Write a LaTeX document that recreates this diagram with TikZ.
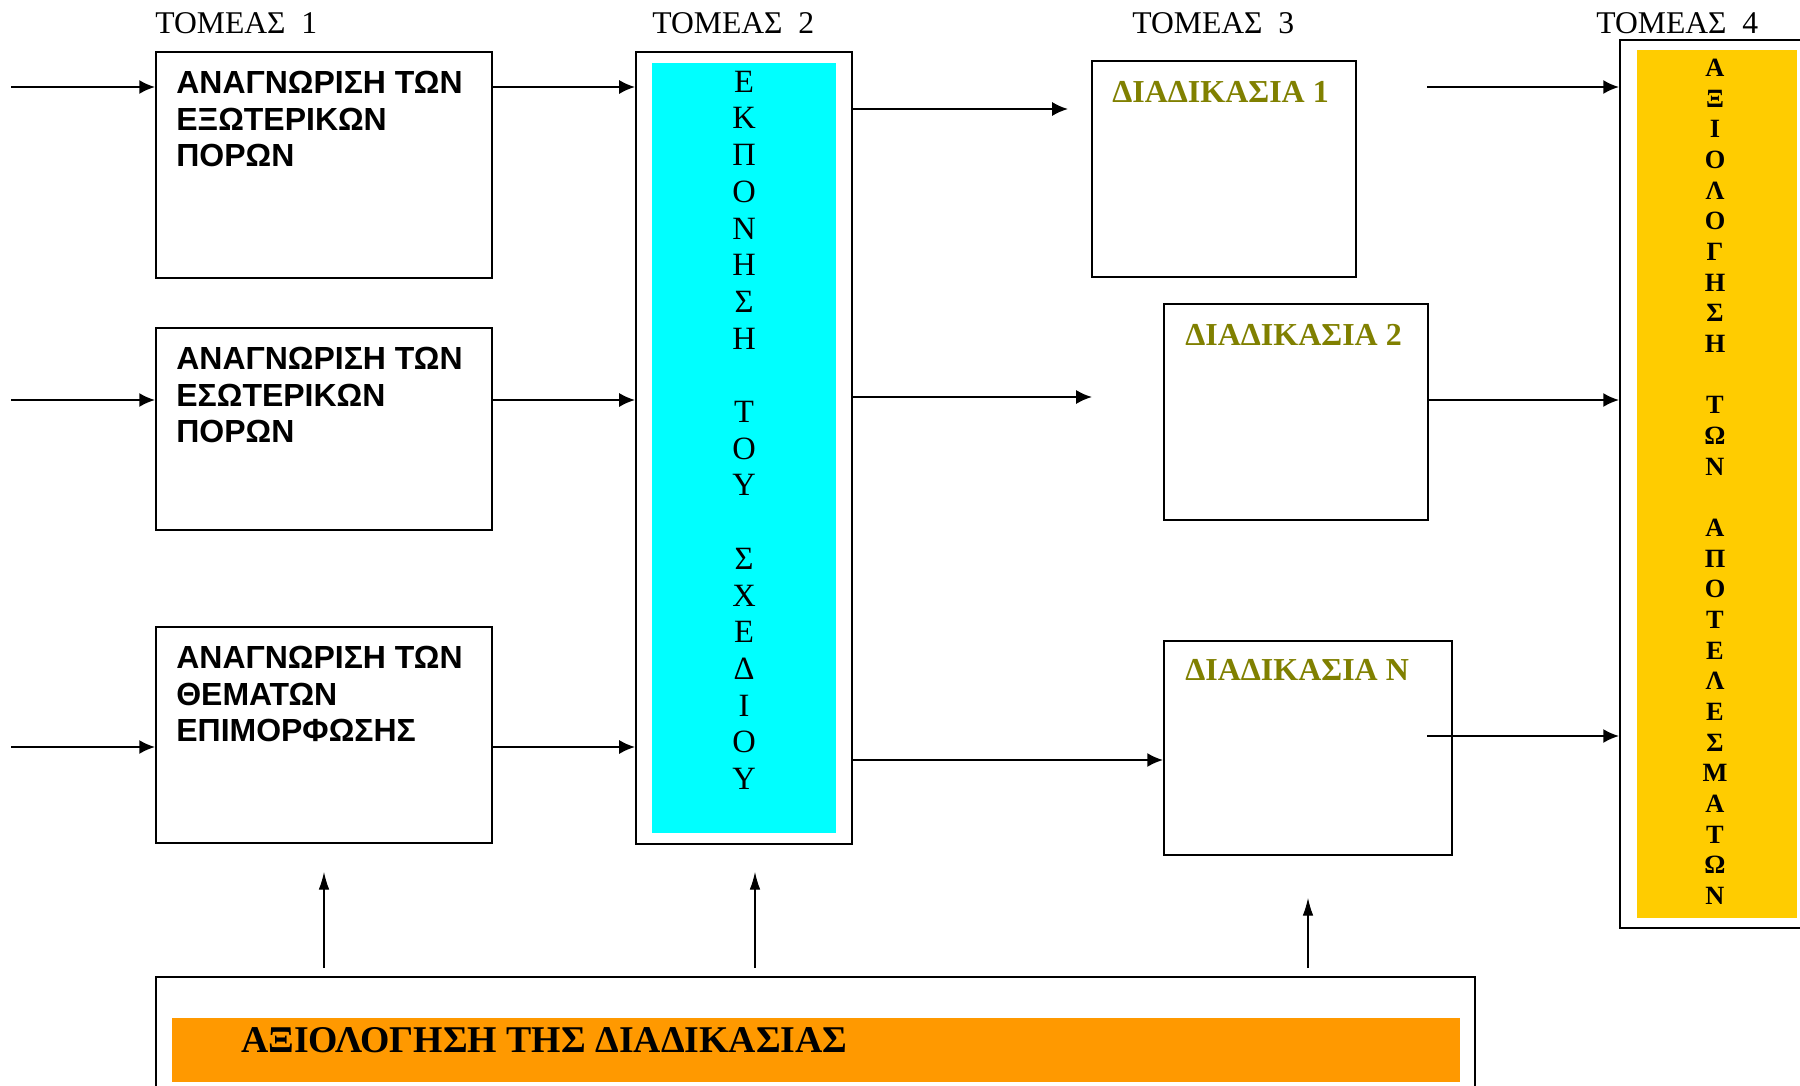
\documentclass[tikz,border=0pt]{standalone}
\usepackage{fontspec}
\setmainfont{Liberation Serif}
\newfontfamily\arialfont{Liberation Sans}
\usepackage{tikz}
\usetikzlibrary{arrows.meta}
\definecolor{planfill}{HTML}{00FFFF}
\definecolor{resfill}{HTML}{FFCC00}
\definecolor{reviewfill}{HTML}{FF9900}
\definecolor{procolive}{HTML}{808000}
\tikzstyle{frame}=[draw, line width=1.1pt, inner sep=0pt, fill=white]
\tikzstyle{band}=[inner sep=0pt]
\tikzstyle{sector}=[font=\fontsize{18}{20}\selectfont, anchor=base west, inner sep=0pt]
\tikzstyle{task}=[font=\arialfont\bfseries\fontsize{18.2}{20.8}\selectfont, align=left, anchor=north west, inner sep=0pt]
\tikzstyle{proc}=[font=\bfseries\fontsize{18.2}{20}\selectfont, text=procolive, anchor=west, inner sep=0pt, text height=12.3pt, text depth=0pt]
\tikzstyle{planletter}=[font=\fontsize{18.5}{20}\selectfont, inner sep=0pt, text height=12.2pt, text depth=0pt]
\tikzstyle{resletter}=[font=\bfseries\fontsize{15}{16}\selectfont, inner sep=0pt, text height=10.1pt, text depth=0pt]
\tikzstyle{flow}=[line width=1.2pt, -{Latex[length=9pt, width=8pt]}]
\tikzstyle{rise}=[line width=0.6pt, -{Latex[length=10pt, width=6pt]}]

\begin{document}
\begin{tikzpicture}[x=0.02cm, y=-0.02cm]
    \useasboundingbox (0,0) rectangle (1800,1086);
    \node[sector] (s1) at (155,33) {ΤΟΜΕΑΣ~~1};
    \node[sector] (s2) at (652,33) {ΤΟΜΕΑΣ~~2};
    \node[sector] (s3) at (1132,33) {ΤΟΜΕΑΣ~~3};
    \node[sector] (s4) at (1596,33) {ΤΟΜΕΑΣ~~4};

    \node[frame, minimum width=6.72cm, minimum height=4.52cm] (task1) at (324,165) {};
    \node[frame, minimum width=6.72cm, minimum height=4.04cm] (task2) at (324,429) {};
    \node[frame, minimum width=6.72cm, minimum height=4.32cm] (task3) at (324,735) {};
    \node[task] (t1) at (176,71) {ΑΝΑΓΝΩΡΙΣΗ ΤΩΝ\\ΕΞΩΤΕΡΙΚΩΝ\\ΠΟΡΩΝ};
    \node[task] (t2) at (176,347) {ΑΝΑΓΝΩΡΙΣΗ ΤΩΝ\\ΕΣΩΤΕΡΙΚΩΝ\\ΠΟΡΩΝ};
    \node[task] (t3) at (176,646) {ΑΝΑΓΝΩΡΙΣΗ ΤΩΝ\\ΘΕΜΑΤΩΝ\\ΕΠΙΜΟΡΦΩΣΗΣ};

    \node[frame, minimum width=4.32cm, minimum height=15.84cm] (plan) at (744,448) {};
    \node[band, fill=planfill, minimum width=3.68cm, minimum height=15.4cm] (planband) at (744,448) {};
    \foreach \ch [count=\i] in {Ε,Κ,Π,Ο,Ν,Η,Σ,Η,{},Τ,Ο,Υ,{},Σ,Χ,Ε,Δ,Ι,Ο,Υ} {
        \node[planletter] (p\i) at (744,{81.5+36.7*(\i-1)}) {\ch};
    }

    \node[frame, minimum width=5.28cm, minimum height=4.32cm] (proc1) at (1224,169) {};
    \node[frame, minimum width=5.28cm, minimum height=4.32cm] (proc2) at (1296,412) {};
    \node[frame, minimum width=5.76cm, minimum height=4.28cm] (procN) at (1308,748) {};
    \node[proc] (d1) at (1112,92) {ΔΙΑΔΙΚΑΣΙΑ 1};
    \node[proc] (d2) at (1185,335) {ΔΙΑΔΙΚΑΣΙΑ 2};
    \node[proc] (dN) at (1185,670) {ΔΙΑΔΙΚΑΣΙΑ Ν};

    \node[frame, minimum width=3.84cm, minimum height=17.76cm] (result) at (1716,484) {};
    \node[band, fill=resfill, minimum width=3.2cm, minimum height=17.36cm] (resband) at (1717,484) {};
    \foreach \ch [count=\i] in {Α,Ξ,Ι,Ο,Λ,Ο,Γ,Η,Σ,Η,{},Τ,Ω,Ν,{},Α,Π,Ο,Τ,Ε,Λ,Ε,Σ,Μ,Α,Τ,Ω,Ν} {
        \node[resletter] (r\i) at (1715,{67.7+30.66*(\i-1)}) {\ch};
    }

    \node[frame, minimum width=26.38cm, minimum height=2.52cm] (review) at (815.5,1040) {};
    \node[band, fill=reviewfill, minimum width=25.76cm, minimum height=1.28cm] (reviewband) at (816,1050) {};
    \node[font=\bfseries\fontsize{21.5}{22}\selectfont, anchor=west, inner sep=0pt, text height=14.5pt, text depth=0pt] (rv) at (241,1040) {ΑΞΙΟΛΟΓΗΣΗ ΤΗΣ ΔΙΑΔΙΚΑΣΙΑΣ};

    \coordinate (src1) at (11,87);
    \coordinate (src2) at (11,400);
    \coordinate (src3) at (11,747);
    \draw[flow] (src1) -- (src1 -| task1.west);
    \draw[flow] (src2) -- (src2 -| task2.west);
    \draw[flow] (src3) -- (src3 -| task3.west);
    \draw[flow] (src1 -| task1.east) -- (src1 -| plan.west);
    \draw[flow] (src2 -| task2.east) -- (src2 -| plan.west);
    \draw[flow] (src3 -| task3.east) -- (src3 -| plan.west);

    \coordinate (out1) at (1068,109);
    \coordinate (out2) at (1092,397);
    \coordinate (out3) at (1164,760);
    \draw[flow] (plan.east |- out1) -- (out1);
    \draw[flow] (plan.east |- out2) -- (out2);
    \draw[flow] (plan.east |- out3) -- (procN.west |- out3);

    \coordinate (res1) at (1427,87);
    \coordinate (res2) at (1429,400);
    \coordinate (res3) at (1427,736);
    \draw[flow] (res1) -- (res1 -| result.west);
    \draw[flow] (proc2.east |- res2) -- (res2 -| result.west);
    \draw[flow] (res3) -- (res3 -| result.west);

    \foreach \x/\t [count=\i] in {324/872, 755/872, 1308/898} {
        \coordinate (foot\i) at (\x,968);
        \coordinate (tip\i) at (\x,\t);
        \draw[rise] (foot\i) -- (tip\i);
    }
\end{tikzpicture}
\end{document}
